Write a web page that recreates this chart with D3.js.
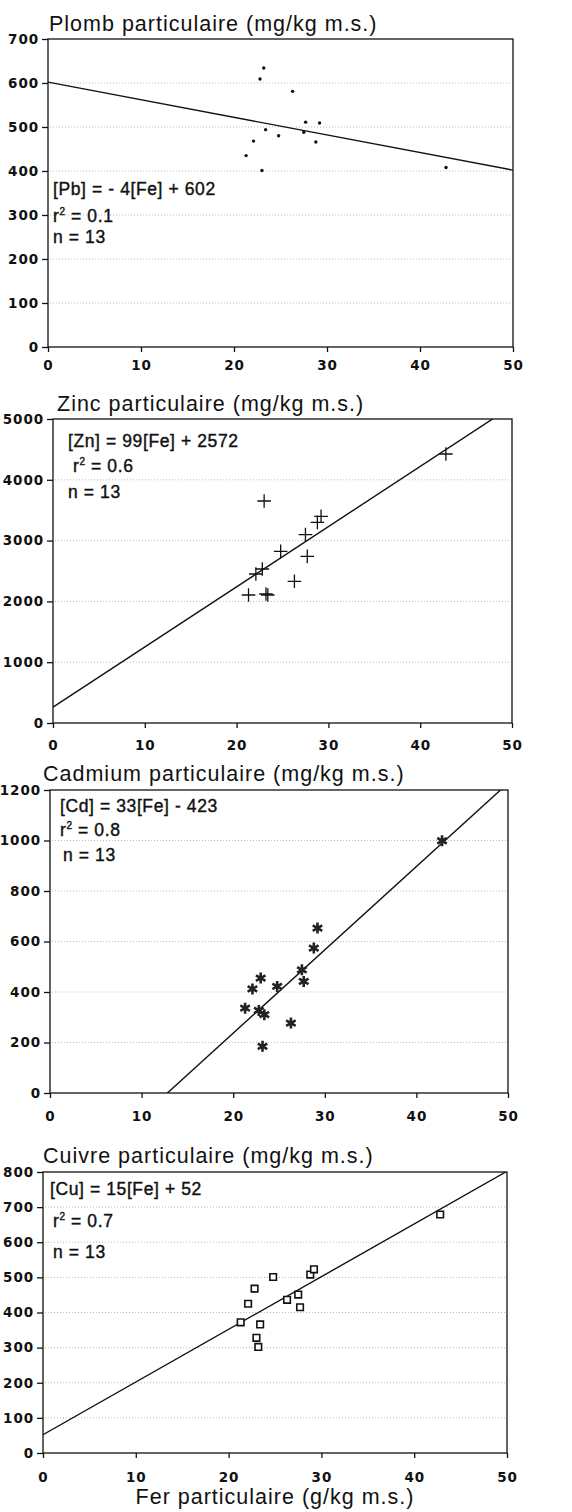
<!DOCTYPE html>
<html><head><meta charset="utf-8">
<script src="https://cdn.jsdelivr.net/npm/d3@7"></script>
<style>body{margin:0;background:#fff} svg{display:block}</style>
</head><body><svg id="c" width="572" height="1512"></svg>
<script>
// ---- data ----
const fer      = [21.3, 22.1, 22.8, 23.0, 23.2, 23.4, 24.8, 26.3, 27.5, 27.7, 28.8, 29.2, 42.8];
const plomb    = [435, 468, 609, 401, 634, 494, 480, 581, 488, 511, 466, 509, 408];
const zinc     = [2105, 2451, 2533, 3651, 2122, 2105, 2823, 2330, 3098, 2741, 3300, 3399, 4424];
const cadmium  = [336, 412, 327, 455, 185, 310, 422, 277, 488, 442, 574, 653, 999];
const cuivre   = [372, 425, 468, 328, 302, 366, 501, 436, 451, 415, 508, 523, 679];
const titles   = ["Plomb particulaire (mg/kg m.s.)", "Zinc particulaire (mg/kg m.s.)",
                  "Cadmium particulaire (mg/kg m.s.)", "Cuivre particulaire (mg/kg m.s.)"];
const yMax     = [700, 5000, 1200, 800];
const yStep    = [100, 1000, 200, 100];
const xTicks   = [0, 10, 20, 30, 40, 50];
const slopes     = [-4, 99, 33, 15];
const intercepts = [602, 260, -423, 52];
const equations  = ["[Pb] = - 4[Fe] + 602", "[Zn] = 99[Fe] + 2572", "[Cd] = 33[Fe] - 423", "[Cu] = 15[Fe] + 52"];
const r2Values   = ["0.1", "0.6", "0.8", "0.7"];
const nValues    = ["13", "13", "13", "13"];
const markerKinds = ["dot", "plus", "star", "square"];
const xTitle = "Fer particulaire (g/kg m.s.)";
const series = [plomb, zinc, cadmium, cuivre];

// ---- layout ----
const layout = [
  {l:48, r:513, t:39,   b:347,  tx:49, ty:31,   xl:370,  ann:[[53,195],[53,222],[53,243]]},
  {l:53, r:512, t:419,  b:723,  tx:57, ty:411,  xl:750,  ann:[[68,447],[73,472],[68,498]]},
  {l:50, r:508, t:790,  b:1093, tx:43, ty:781,  xl:1121, ann:[[60,812],[60,836],[63,861]]},
  {l:43, r:507, t:1172, b:1453, tx:43, ty:1163, xl:1482, ann:[[50,1195],[53,1227],[53,1258]]}
];

const svg = d3.select("#c");
const tickFont = "'DejaVu Sans', sans-serif";
const textFont = "'Liberation Sans', Arial, sans-serif";

series.forEach((vals, i) => {
  const L = layout[i];
  const x = d3.scaleLinear().domain([0, 50]).range([L.l, L.r]);
  const y = d3.scaleLinear().domain([0, yMax[i]]).range([L.b, L.t]);
  const g = svg.append("g");
  const yTicks = d3.range(0, yMax[i] + 1, yStep[i]);

  // grid
  g.selectAll(".grid").data(yTicks.filter(v => v > 0 && v < yMax[i])).join("line")
    .attr("x1", L.l + 2).attr("x2", L.r - 2)
    .attr("y1", d => y(d)).attr("y2", d => y(d))
    .attr("stroke", "#aaa").attr("stroke-width", 0.8).attr("stroke-dasharray", "1,2");

  // title
  g.append("text").attr("x", L.tx).attr("y", L.ty).text(titles[i])
    .attr("font-family", textFont).attr("font-size", 21.5).attr("letter-spacing", 1.0).attr("fill", "#111");

  // axes
  const ya = d3.axisLeft(y).tickValues(yTicks).tickSize(6).tickPadding(3).tickFormat(d3.format("d"));
  const yg = g.append("g").attr("transform", `translate(${L.l},0)`).call(ya);
  const xa = d3.axisBottom(x).tickValues(xTicks).tickSize(5).tickPadding(3).tickFormat(d3.format("d"));
  const xg = g.append("g").attr("transform", `translate(0,${L.b})`).call(xa);
  [yg, xg].forEach(a => {
    a.select(".domain").remove();
    a.selectAll(".tick line").attr("stroke", "#111").attr("stroke-width", 1.3);
    a.selectAll(".tick text").attr("font-family", tickFont).attr("font-weight", "bold")
      .attr("font-size", 13.5).attr("fill", "#111").attr("letter-spacing", 0.9);
  });
  xg.selectAll(".tick text").attr("dy", null).attr("y", L.xl - L.b);

  // frame
  g.append("rect").attr("x", L.l).attr("y", L.t).attr("width", L.r - L.l).attr("height", L.b - L.t)
    .attr("fill", "none").attr("stroke", "#111").attr("stroke-width", 1.3);

  // regression line (clipped)
  const clipId = "clip" + i;
  svg.append("clipPath").attr("id", clipId).append("rect")
    .attr("x", L.l).attr("y", L.t).attr("width", L.r - L.l).attr("height", L.b - L.t);
  const line = d3.line().x(d => x(d)).y(d => y(slopes[i] * d + intercepts[i]));
  g.append("path").attr("d", line([0, 50])).attr("clip-path", `url(#${clipId})`)
    .attr("fill", "none").attr("stroke", "#111").attr("stroke-width", 1.4);

  // annotations
  const at = g.append("g").attr("font-family", textFont).attr("font-size", 17.5)
    .attr("fill", "#111").attr("stroke", "#111").attr("stroke-width", 0.4).attr("letter-spacing", 0.6);
  at.append("text").attr("x", L.ann[0][0]).attr("y", L.ann[0][1]).text(equations[i]);
  const r2t = at.append("text").attr("x", L.ann[1][0]).attr("y", L.ann[1][1]);
  r2t.append("tspan").text("r");
  r2t.append("tspan").attr("font-size", 10).attr("dy", -7).text("2");
  r2t.append("tspan").attr("dy", 7).text(" = " + r2Values[i]);
  at.append("text").attr("x", L.ann[2][0]).attr("y", L.ann[2][1]).text("n = " + nValues[i]);

  // markers
  const pts = g.append("g");
  const data = fer.map((f, k) => [f, vals[k]]);
  const kind = markerKinds[i];
  if (kind === "dot") {
    pts.selectAll("circle").data(data).join("circle")
      .attr("cx", d => x(d[0])).attr("cy", d => y(d[1])).attr("r", 1.7).attr("fill", "#111");
  } else if (kind === "plus") {
    pts.selectAll("path").data(data).join("path")
      .attr("d", d3.symbol(d3.symbolPlus, 62))
      .attr("transform", d => `translate(${x(d[0])},${y(d[1])})`)
      .attr("fill", "none").attr("stroke", "#111").attr("stroke-width", 1.3);
  } else if (kind === "star") {
    pts.selectAll("path").data(data).join("path")
      .attr("d", d3.symbol(d3.symbolAsterisk, 85))
      .attr("transform", d => `translate(${x(d[0])},${y(d[1])})`)
      .attr("fill", "none").attr("stroke", "#222").attr("stroke-width", 2.6);
  } else {
    pts.selectAll("path").data(data).join("path")
      .attr("d", d3.symbol(d3.symbolSquare2 || d3.symbolSquare, 55))
      .attr("transform", d => `translate(${x(d[0])},${y(d[1])})`)
      .attr("fill", "#fff").attr("stroke", "#111").attr("stroke-width", 1.6);
  }

  if (i === 3) {
    svg.append("text").attr("x", (L.l + L.r) / 2).attr("y", 1504).attr("text-anchor", "middle")
      .text(xTitle).attr("font-family", textFont).attr("font-size", 21.5).attr("letter-spacing", 1.0).attr("fill", "#111");
  }
});
</script></body></html>
